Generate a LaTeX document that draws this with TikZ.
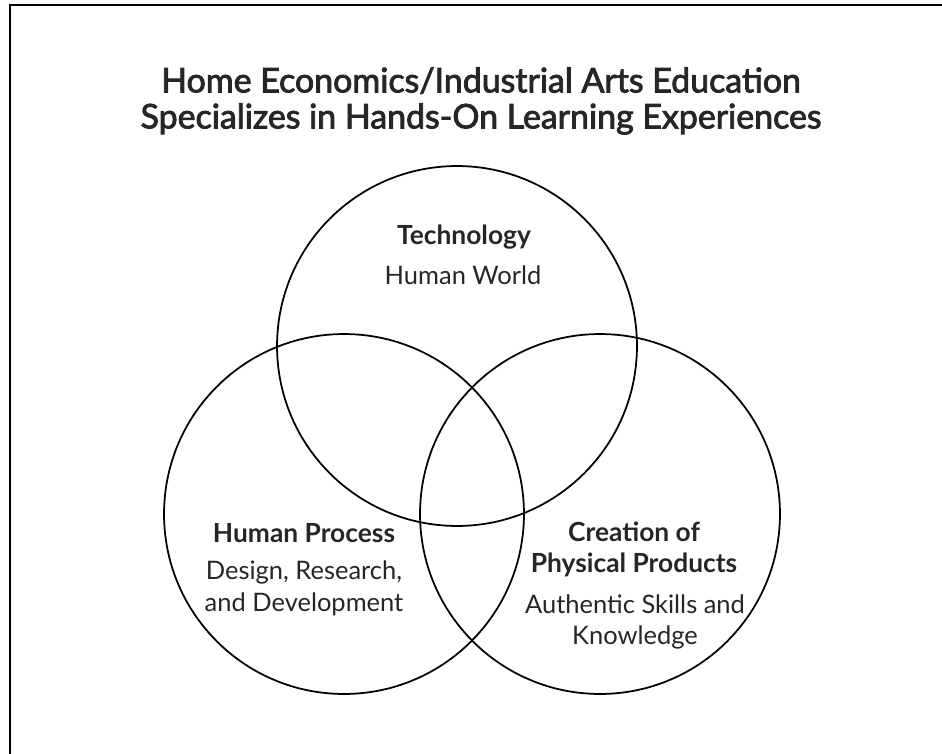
\documentclass[tikz,border=0pt]{standalone}
\usepackage{fontspec}
\setmainfont{Lato}
\newfontfamily\titlefont{Lato}[FakeBold=2.5]
\usetikzlibrary{positioning}
\tikzset{x=0.02cm, y=-0.02cm, % one unit is one pixel of the page, y runs down
set/.style={ % the three circles
circle, draw, line width=1pt,
minimum size=7.2cm, inner sep=0pt},
heading/.style={ % bold name of a circle
align=center, text=black!85,
font=\fontsize{15}{17.6}\selectfont\bfseries},
detail/.style={ % plain text under the name
align=center, text=black!85,
font=\fontsize{14.5}{18}\selectfont},
caption/.style={ % title above the picture
align=center, text=black!85,
font=\fontsize{19.3}{20.5}\titlefont}}

\begin{document}
\begin{tikzpicture}

    \useasboundingbox (0,0) rectangle (942,753);
    \clip (0,0) rectangle (942,753);
    \draw[line width=1.2pt] (10,5) rectangle (990,800);

    \node[caption] (title) at (481,101) {Home Economics/Industrial Arts Education\\Specializes in Hands-On Learning Experiences};

    \node[set] (tech) at (457,346) {};
    \node[set] (proc) at (344,514) {};
    \node[set] (prod) at (600,514) {};

    \node[heading] (techname) at (464,237) {Technology};
    \node[detail] (techtext) at (463,275) {Human World};

    \node[heading] (procname) at (304,533) {Human Process};
    \node[detail] (proctext) at (304,588) {Design, Research,\\and Development};

    \node[heading] (prodname) at (634,549) {Creation of\\Physical Products};
    \node[detail] (prodtext) at (635,622) {Authentic Skills and\\Knowledge};

\end{tikzpicture}
\end{document}
